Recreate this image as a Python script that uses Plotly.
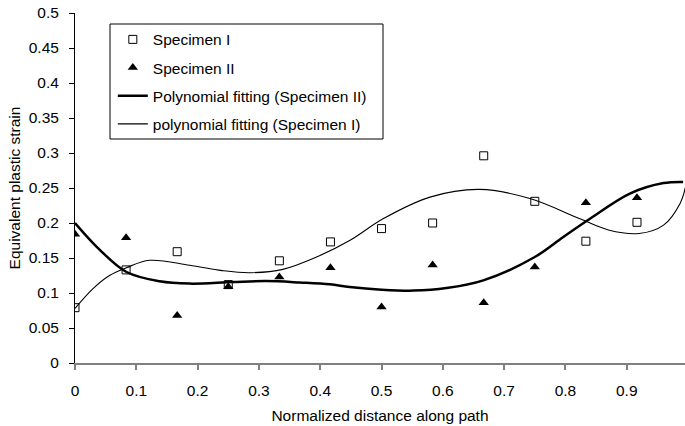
import plotly.graph_objects as go

# Data points (normalized distance along path)
x_pts = [0, 1/12, 2/12, 3/12, 4/12, 5/12, 6/12, 7/12, 8/12, 9/12, 10/12, 11/12]
spec1 = [0.079, 0.133, 0.159, 0.112, 0.146, 0.173, 0.192, 0.200, 0.296, 0.231, 0.174, 0.201]
spec2 = [0.184, 0.179, 0.068, 0.109, 0.123, 0.136, 0.080, 0.140, 0.086, 0.137, 0.229, 0.236]

# Polynomial trend curves
fit2_x = [0.0, 0.04, 0.084, 0.138, 0.187, 0.257, 0.312, 0.367, 0.4155, 0.448, 0.5, 0.552,
          0.606, 0.666, 0.75, 0.7965, 0.840, 0.905, 0.96, 0.992]
fit2_y = [0.200, 0.162, 0.130, 0.1167, 0.1134, 0.1157, 0.117, 0.115, 0.1124, 0.1086, 0.1048,
          0.1034, 0.107, 0.118, 0.1514, 0.180, 0.206, 0.242, 0.257, 0.2586]
fit1_x = [0.0, 0.029, 0.0563, 0.0836, 0.1216, 0.187, 0.240, 0.285, 0.339, 0.394, 0.448,
          0.5025, 0.579, 0.660, 0.742, 0.8237, 0.870, 0.920, 0.960, 0.987, 0.996]
fit1_y = [0.078, 0.106, 0.125, 0.136, 0.1467, 0.1396, 0.132, 0.129, 0.1338, 0.1514, 0.175,
          0.206, 0.237, 0.248, 0.235, 0.206, 0.190, 0.185, 0.197, 0.228, 0.252]

y_ticks = [0, 0.05, 0.1, 0.15, 0.2, 0.25, 0.3, 0.35, 0.4, 0.45, 0.5]
y_tick_text = ["0", "0.05", "0.1", "0.15", "0.2", "0.25", "0.3", "0.35", "0.4", "0.45", "0.5"]
x_ticks = [0, 0.1, 0.2, 0.3, 0.4, 0.5, 0.6, 0.7, 0.8, 0.9]
x_tick_text = ["0", "0.1", "0.2", "0.3", "0.4", "0.5", "0.6", "0.7", "0.8", "0.9"]

FONT = "Liberation Sans, Arial, sans-serif"
FS = 15.5

fig = go.Figure()
fig.add_trace(go.Scatter(x=x_pts, y=spec1, mode="markers", name="Specimen I",
                         legendgroup="a",
                         marker=dict(symbol="square-open", size=8, color="black",
                                     line=dict(width=1, color="black"))))
fig.add_trace(go.Scatter(x=x_pts, y=spec2, mode="markers", name="Specimen II",
                         legendgroup="b",
                         marker=dict(symbol="triangle-up", size=9, color="black")))
fig.add_trace(go.Scatter(x=fit2_x, y=fit2_y, mode="lines",
                         name="Polynomial fitting (Specimen II)", legendgroup="c",
                         line=dict(color="black", width=2.5, shape="spline")))
fig.add_trace(go.Scatter(x=fit1_x, y=fit1_y, mode="lines",
                         name="polynomial fitting (Specimen I)", legendgroup="d",
                         line=dict(color="black", width=1.1, shape="spline")))

fig.update_layout(
    width=685, height=426,
    margin=dict(l=75, r=0, t=13, b=63, pad=0),
    paper_bgcolor="white", plot_bgcolor="white",
    font=dict(family=FONT, size=FS, color="black"),
    showlegend=True,
    legend=dict(x=0.062, y=0.972, xanchor="left", yanchor="top",
                borderwidth=0, bgcolor="rgba(0,0,0,0)",
                font=dict(size=FS), tracegroupgap=5, itemwidth=30,
                traceorder="grouped"),
    shapes=[dict(type="rect", xref="paper", yref="paper",
                 x0=(110 - 75) / 610, x1=(383 - 75) / 610,
                 y0=(363 - 139) / 350, y1=(363 - 24) / 350,
                 line=dict(color="black", width=1), fillcolor="rgba(0,0,0,0)",
                 layer="above")],
    xaxis=dict(range=[0, 0.995], tickvals=x_ticks, ticktext=x_tick_text,
               showgrid=False, zeroline=False, showline=True, linecolor="#808080",
               linewidth=2, ticks="outside", ticklen=5, tickcolor="#808080", tickwidth=2,
               ticklabelstandoff=7,
               title=dict(text="Normalized distance along path", standoff=13,
                          font=dict(size=FS)),
               automargin=False),
    yaxis=dict(range=[0, 0.5], tickvals=y_ticks, ticktext=y_tick_text,
               showgrid=False, zeroline=False, showline=True, linecolor="black",
               linewidth=1, ticks="outside", ticklen=5, tickcolor="black",
               ticklabelstandoff=7,
               title=dict(text="Equivalent plastic strain", standoff=4,
                          font=dict(size=FS)),
               automargin=False),
)

fig.write_html("out.html")
